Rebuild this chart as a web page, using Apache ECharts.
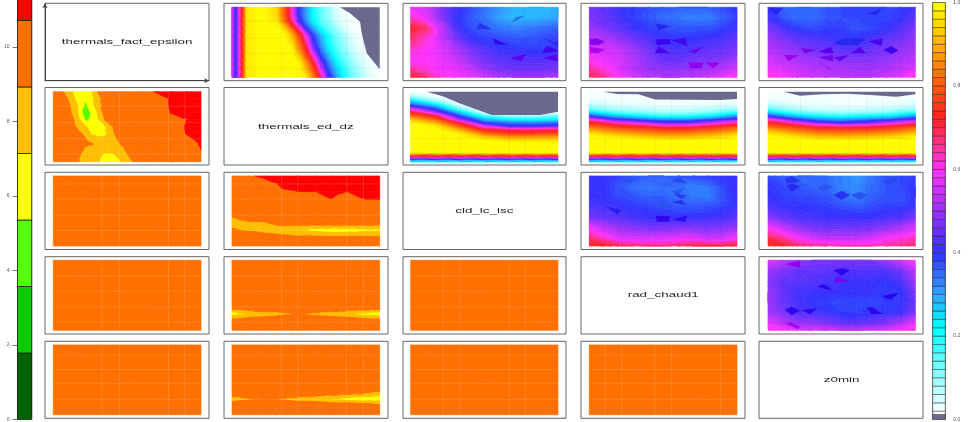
<!DOCTYPE html>
<html>
<head>
<meta charset="utf-8">
<style>html,body{margin:0;padding:0;background:#fff}#c{width:969px;height:422px}#c canvas{filter:blur(.6px)}</style>
<script src="https://cdn.jsdelivr.net/npm/echarts@6/dist/echarts.min.js"></script>
</head>
<body>
<div id="c"></div>
<script>
// ---------- DATA ----------
const variableNames = ['thermals_fact_epsilon','thermals_ed_dz','cld_lc_lsc','rad_chaud1','z0min'];
const leftTickValues = [0,2,4,6,8,10];
const rightTickValues = [0,0.2,0.4,0.6,0.8,1];
const leftLevels = [0,1.786,3.571,5.357,7.143,8.929,10.714,12.5];
const rightLevels = [0,0.012,0.02,0.04,0.06,0.08,0.1,0.12,0.14,0.16,0.18,0.2,0.22,0.24,0.26,0.28,0.3,0.32,0.34,0.36,0.38,0.4,0.42,0.44,0.46,0.48,0.5,0.52,0.54,0.56,0.58,0.6,0.62,0.64,0.66,0.68,0.7,0.72,0.74,0.76,0.78,0.8,0.82,0.84,0.86,0.88,0.9,0.92,0.94,0.96,0.98,1];

const flatCols = [0,1];
const flatRows = [1,0];
const flatVals = [[9.8,9.8],[9.8,9.8]];

const cols12 = [0,.025,.05,.075,.1,.2,.3,.35,.4,.45,.5,.55,.6,.65,.7,.75,.8,.85,.9,.95,1];
const rows12 = [1,.9,.8,.7,.6,.5,.4,.3,.2,.1,0];
const vals12 = [
[.55,.38,.6,.76,.97,1,.95,.81,.64,.4,.3,.21,.14,.1,.05,.021,.021,.021,.021,.021,.021],
[.55,.38,.6,.76,.97,1,.95,.81,.64,.4,.3,.21,.14,.1,.05,.03,.021,.021,.021,.021,.021],
[.55,.38,.6,.76,.97,1,.97,.84,.68,.44,.32,.22,.15,.11,.06,.035,.025,.021,.021,.021,.021],
[.55,.38,.6,.76,.97,1,1,.95,.81,.64,.4,.3,.21,.14,.1,.05,.03,.021,.021,.021,.021],
[.55,.38,.6,.76,.97,1,1,1,.92,.78,.59,.38,.28,.2,.13,.09,.05,.025,.021,.021,.021],
[.55,.38,.6,.76,.97,1,1,1,.96,.83,.66,.42,.31,.21,.145,.1,.055,.03,.021,.021,.021],
[.55,.38,.6,.76,.97,1,1,1,1,.87,.72,.49,.34,.24,.17,.115,.07,.04,.021,.021,.021],
[.55,.38,.6,.76,.97,1,1,1,1,.94,.79,.62,.39,.29,.2,.135,.095,.05,.03,.021,.021],
[.55,.38,.6,.76,.97,1,1,1,1,1,.87,.72,.49,.34,.24,.17,.115,.07,.04,.021,.021],
[.55,.38,.6,.76,.97,1,1,1,1,1,.92,.78,.59,.38,.28,.2,.13,.09,.05,.03,.021],
[.55,.38,.6,.76,.97,1,1,1,1,1,.97,.84,.68,.44,.32,.22,.15,.11,.06,.035,.021]];

const colsFine = [0,.1,.2,.3,.4,.5,.6,.7,.8,.9,1];
const rowsFine = [1,.85,.7,.55,.4,.25,.1,0];
const vals13 = [
[.58,.56,.48,.42,.38,.35,.32,.29,.28,.28,.3],
[.63,.58,.49,.41,.37,.34,.3,.28,.28,.29,.3],
[.72,.68,.55,.43,.38,.36,.34,.33,.34,.35,.36],
[.68,.62,.55,.47,.41,.39,.38,.37,.37,.38,.39],
[.62,.6,.57,.52,.47,.43,.41,.4,.39,.39,.4],
[.6,.6,.58,.55,.5,.46,.44,.43,.43,.43,.44],
[.66,.62,.59,.58,.55,.5,.47,.46,.46,.46,.47],
[.73,.68,.62,.6,.58,.55,.52,.5,.5,.5,.52]];
const vals14 = [
[.46,.44,.41,.39,.38,.37,.36,.36,.36,.38,.4],
[.47,.45,.42,.39,.37,.35,.34,.33,.33,.36,.39],
[.5,.47,.44,.41,.39,.38,.37,.37,.37,.39,.41],
[.53,.52,.49,.46,.43,.41,.4,.4,.41,.42,.44],
[.57,.56,.54,.5,.46,.43,.42,.43,.44,.45,.47],
[.6,.58,.56,.52,.48,.45,.45,.46,.47,.48,.5],
[.66,.62,.57,.53,.5,.49,.49,.5,.51,.53,.56],
[.7,.66,.6,.56,.53,.52,.52,.53,.55,.58,.62]];
const vals15 = [
[.4,.36,.35,.35,.37,.38,.38,.38,.38,.39,.41],
[.42,.37,.35,.35,.37,.38,.38,.38,.38,.4,.44],
[.47,.42,.39,.38,.39,.39,.37,.38,.4,.43,.47],
[.5,.47,.44,.43,.42,.4,.4,.42,.44,.46,.49],
[.53,.5,.48,.46,.45,.44,.44,.45,.47,.49,.51],
[.55,.53,.51,.5,.49,.48,.48,.48,.49,.51,.53],
[.59,.57,.55,.53,.52,.52,.51,.51,.52,.54,.57],
[.63,.6,.57,.55,.54,.53,.53,.53,.55,.57,.63]];
const vals34 = [
[.41,.41,.39,.37,.36,.36,.37,.38,.39,.4,.41],
[.41,.4,.37,.35,.34,.35,.35,.33,.34,.38,.41],
[.41,.4,.38,.37,.36,.36,.34,.34,.33,.37,.41],
[.43,.42,.41,.4,.39,.38,.37,.37,.38,.39,.41],
[.47,.45,.44,.42,.41,.41,.41,.41,.41,.42,.44],
[.59,.54,.5,.48,.47,.47,.48,.48,.47,.48,.5],
[.68,.63,.57,.56,.56,.57,.58,.58,.55,.56,.6],
[.73,.72,.7,.68,.67,.67,.68,.7,.7,.7,.72]];
const vals35 = [
[.38,.36,.35,.35,.35,.33,.31,.34,.37,.38,.39],
[.4,.38,.37,.36,.35,.33,.32,.35,.37,.38,.4],
[.41,.39,.38,.38,.37,.34,.33,.36,.37,.37,.4],
[.43,.41,.4,.4,.39,.38,.37,.38,.39,.39,.41],
[.49,.45,.43,.42,.41,.41,.41,.41,.42,.43,.47],
[.6,.55,.5,.47,.46,.46,.46,.47,.49,.52,.57],
[.7,.66,.6,.56,.54,.54,.54,.56,.6,.62,.64],
[.74,.72,.68,.66,.65,.64,.64,.64,.65,.66,.68]];
const vals45 = [
[.57,.53,.49,.47,.47,.47,.47,.47,.5,.55,.6],
[.5,.47,.45,.45,.44,.43,.43,.43,.43,.46,.53],
[.48,.45,.44,.43,.42,.41,.41,.41,.4,.42,.5],
[.5,.45,.42,.41,.41,.41,.41,.4,.39,.4,.47],
[.5,.45,.42,.4,.39,.38,.38,.38,.39,.4,.45],
[.51,.47,.43,.42,.41,.39,.39,.4,.4,.41,.47],
[.58,.53,.5,.49,.47,.45,.44,.45,.47,.52,.58],
[.62,.6,.58,.56,.55,.54,.54,.55,.57,.6,.63]];

const colsBand = [0,.17,.33,.5,.67,.83,1];
const rowsBand = [1,.95,.9,.85,.8,.75,.7,.65,.6,.55,.5,.45,.4,.35,.3,.25,.14,.11,.09,.07,.05,.03,.015,0];
const vals23 = [
[.03,.021,.021,.021,.021,.021,.021],
[.06,.021,.021,.021,.021,.021,.021],
[.15,.05,.021,.021,.021,.021,.021],
[.28,.12,.021,.021,.021,.021,.021],
[.38,.26,.04,.021,.021,.021,.021],
[.58,.37,.12,.021,.021,.021,.021],
[.72,.5,.26,.03,.021,.021,.021],
[.82,.71,.37,.15,.08,.08,.12],
[.92,.8,.5,.28,.21,.2,.23],
[.99,.9,.71,.38,.33,.32,.34],
[1,.98,.8,.58,.42,.42,.44],
[1,1,.9,.72,.68,.68,.69],
[1,1,.98,.82,.76,.76,.77],
[1,1,1,.92,.86,.86,.87],
[1,1,1,.99,.96,.96,.96],
[1,1,1,1,1,1,1],
[1,1,1,1,1,1,1],
[.95,.95,.95,.95,.95,.95,.95],
[.78,.78,.78,.78,.78,.78,.78],
[.7,.7,.7,.7,.7,.7,.7],
[.55,.55,.55,.55,.55,.55,.55],
[.4,.4,.4,.4,.4,.4,.4],
[.3,.3,.3,.3,.3,.3,.3],
[.2,.2,.2,.2,.2,.2,.2]];
const vals24 = [
[.025,.021,.021,.021,.021,.021,.021],
[.025,.025,.021,.021,.021,.021,.021],
[.03,.025,.025,.021,.021,.021,.021],
[.05,.03,.03,.025,.025,.025,.025],
[.08,.05,.04,.03,.03,.04,.05],
[.13,.08,.07,.055,.055,.07,.09],
[.25,.15,.12,.09,.09,.12,.17],
[.37,.27,.22,.17,.17,.22,.3],
[.6,.4,.35,.3,.3,.35,.43],
[.74,.63,.55,.45,.45,.55,.66],
[.81,.75,.72,.66,.66,.72,.77],
[.89,.83,.8,.77,.77,.8,.85],
[.96,.9,.87,.84,.84,.87,.92],
[1,.97,.94,.91,.91,.94,.99],
[1,1,1,.99,.99,1,1],
[1,1,1,1,1,1,1],
[1,1,1,1,1,1,1],
[.95,.95,.95,.95,.95,.95,.95],
[.78,.78,.78,.78,.78,.78,.78],
[.7,.7,.7,.7,.7,.7,.7],
[.55,.55,.55,.55,.55,.55,.55],
[.4,.4,.4,.4,.4,.4,.4],
[.3,.3,.3,.3,.3,.3,.3],
[.2,.2,.2,.2,.2,.2,.2]];
const vals25 = [
[.021,.021,.021,.021,.021,.021,.021],
[.025,.021,.021,.021,.021,.021,.021],
[.03,.025,.025,.025,.025,.022,.025],
[.05,.03,.03,.025,.03,.03,.035],
[.08,.05,.035,.03,.03,.04,.05],
[.14,.08,.055,.05,.055,.07,.09],
[.26,.15,.11,.09,.1,.12,.17],
[.38,.27,.2,.17,.2,.22,.3],
[.6,.4,.32,.3,.32,.35,.43],
[.74,.63,.47,.4,.45,.55,.66],
[.81,.75,.68,.66,.68,.72,.77],
[.89,.83,.78,.77,.78,.8,.85],
[.96,.9,.85,.84,.85,.87,.92],
[1,.97,.92,.91,.92,.94,.99],
[1,1,.99,.99,.99,1,1],
[1,1,1,1,1,1,1],
[1,1,1,1,1,1,1],
[.95,.95,.95,.95,.95,.95,.95],
[.78,.78,.78,.78,.78,.78,.78],
[.7,.7,.7,.7,.7,.7,.7],
[.55,.55,.55,.55,.55,.55,.55],
[.4,.4,.4,.4,.4,.4,.4],
[.3,.3,.3,.3,.3,.3,.3],
[.2,.2,.2,.2,.2,.2,.2]];

const cols21 = [0,.05,.1,.15,.18,.22,.26,.3,.35,.4,.45,.5,.6,.7,.8,.9,1];
const rows21 = [1,.9,.8,.7,.6,.5,.4,.3,.25,.2,.1,0];
const vals21 = [
[9.8,9.3,8.2,6.5,5.9,5.7,7.0,8.9,9.5,9.8,9.8,9.8,9.8,10.9,11,11,11],
[9.8,9.6,8.9,7.0,6.0,5.7,6.5,8.5,9.5,9.8,9.8,9.8,9.8,10,10.9,11,11],
[9.8,9.8,9.4,7.9,6.5,5.0,6.4,8.3,9.5,9.8,9.8,9.8,9.8,10,10.9,11,11],
[9.8,9.8,9.6,8.0,6.4,3.7,5.8,7.3,9.8,9.8,9.8,9.8,9.8,10,10.8,11,11],
[9.8,9.8,9.7,8.7,7.2,5.0,6.0,6.8,9.1,9.8,9.8,9.8,9.8,9.9,10.1,10.7,11],
[9.8,9.8,9.8,9.0,8.2,7.3,6.4,6.2,6.9,8.9,9.8,9.8,9.8,9.9,10.1,10.8,11],
[9.8,9.8,9.8,9.7,9.2,8.6,7.0,6.6,6.9,8.7,9.5,9.8,9.8,9.9,10,10.75,11],
[9.8,9.8,9.8,9.8,9.7,9.1,8.3,8.0,7.8,8.1,9.2,9.8,9.8,9.8,9.9,10.4,10.9],
[9.8,9.8,9.8,9.8,9.8,9.7,9.2,8.4,7.9,8.0,8.9,9.6,9.8,9.8,9.9,10.3,10.8],
[9.8,9.8,9.8,9.8,9.5,8.8,8.0,7.8,7.6,7.8,8.4,9.4,9.8,9.8,9.8,10.2,10.75],
[9.8,9.8,9.8,9.8,9.0,8.3,7.9,7.5,7.0,7.0,7.6,8.9,9.8,9.8,9.8,10.1,10.6],
[9.8,9.8,9.8,9.2,8.8,8.0,7.6,7.3,6.5,6.3,6.9,8.4,9.8,9.8,9.8,9.9,10.3]];

const cols32 = [0,.05,.11,.22,.3,.34,.44,.57,.67,.78,.89,1];
const rows32 = [1,.89,.78,.67,.55,.43,.38,.33,.28,.25,.225,.2,.17,.13,0];
const vals32 = [
[9.8,10,10.5,11,11,11,11,11,11,11,11,11],
[9.8,9.8,9.9,10.2,10.7,10.9,11,11,11,11,11,11],
[9.8,9.8,9.8,9.9,10.2,10.6,10.72,10.72,11,10.72,11,11],
[9.8,9.8,9.8,9.8,9.9,10,10.2,10.3,10.72,10.3,10.72,10.72],
[9.8,9.8,9.8,9.8,9.8,9.8,9.8,9.8,9.8,9.8,9.8,9.8],
[9.2,9.7,9.8,9.8,9.8,9.8,9.8,9.8,9.8,9.8,9.8,9.8],
[8.5,9.0,9.4,9.7,9.8,9.8,9.8,9.8,9.8,9.8,9.8,9.8],
[8.0,8.5,8.7,8.8,9.4,9.6,9.5,9.5,9.5,9.5,9.5,9.5],
[7.9,8.0,8.1,8.2,8.7,8.9,8.8,8.7,8.7,8.7,8.7,8.7],
[9.1,8.2,8.0,8.0,8.2,8.3,8.0,7.5,7.2,7.3,7.5,7.6],
[9.5,8.9,8.5,8.2,8.3,8.3,7.4,6.5,5.4,6,6.5,6.9],
[9.8,9.4,9.2,8.7,8.5,8.4,7.7,7.3,6.9,7,7.2,7.4],
[9.8,9.8,9.7,9.2,8.9,8.8,8.3,8.1,8.0,8.0,8.1,8.5],
[9.8,9.8,9.8,9.8,9.8,9.8,9.2,9.3,9.2,9.2,9.2,9.1],
[9.8,9.8,9.8,9.8,9.8,9.8,9.8,9.8,9.8,9.8,9.8,9.8]];

const cols42 = [0,.1,.2,.3,.41,.44,.47,.6,.7,.8,.9,1];
const rows42 = [1,.3,.27,.25,.228,.205,.185,.155,.1,0];
const vals42 = [
[9.8,9.8,9.8,9.8,9.8,9.8,9.8,9.8,9.8,9.8,9.8,9.8],
[9.0,9.5,9.8,9.8,9.8,9.8,9.8,9.8,9.8,9.5,9.3,9.0],
[8.2,8.7,9.2,9.6,9.8,9.8,9.8,9.5,9.2,8.8,8.4,8.2],
[7.1,8.0,8.4,8.9,9.7,9.8,9.7,8.9,8.4,8.0,7.3,7.0],
[6.6,7.2,7.8,8.2,8.9,9.3,8.9,8.0,7.9,7.3,6.6,6.3],
[7.2,8.0,8.4,8.9,9.7,9.8,9.7,8.9,8.5,8.1,7.4,7.1],
[8.3,8.8,9.2,9.6,9.8,9.8,9.8,9.6,9.3,8.9,8.5,8.3],
[9.0,9.4,9.8,9.8,9.8,9.8,9.8,9.8,9.8,9.6,9.3,9.0],
[9.8,9.8,9.8,9.8,9.8,9.8,9.8,9.8,9.8,9.8,9.8,9.8],
[9.8,9.8,9.8,9.8,9.8,9.8,9.8,9.8,9.8,9.8,9.8,9.8]];

const cols52 = [0,.1,.2,.3,.33,.45,.55,.69,.8,.9,1];
const rows52 = [1,.36,.34,.3,.26,.245,.22,.2,.185,.16,.14,.1,0];
const vals52 = [
[9.8,9.8,9.8,9.8,9.8,9.8,9.8,9.8,9.8,9.8,9.8],
[9.8,9.8,9.8,9.8,9.8,9.8,9.8,9.8,9.8,9.8,9.2],
[9.8,9.8,9.8,9.8,9.8,9.8,9.8,9.8,9.8,9.6,8.95],
[9.8,9.8,9.8,9.8,9.8,9.8,9.8,9.6,9.2,8.9,8.2],
[9.8,9.8,9.8,9.8,9.8,9.4,9.1,8.4,7.9,7.6,7.0],
[8.6,9.2,9.6,9.7,9.4,8.9,8.7,7.8,7.2,7,6.7],
[8.0,8.6,9.0,9.0,8.8,8.0,7.9,7.1,6.5,6.1,5.8],
[8.7,9.1,9.6,9.6,9.3,8.7,8.6,7.8,7.2,7,6.9],
[8.9,9.4,9.8,9.8,9.6,9.2,9.1,8.5,8.3,8.1,7.9],
[9.8,9.8,9.8,9.8,9.8,9.8,9.8,9.5,9.3,9.0,8.6],
[9.8,9.8,9.8,9.8,9.8,9.8,9.8,9.8,9.7,9.4,8.93],
[9.8,9.8,9.8,9.8,9.8,9.8,9.8,9.8,9.8,9.8,9.8],
[9.8,9.8,9.8,9.8,9.8,9.8,9.8,9.8,9.8,9.8,9.8]];

// small closed contour islands: [level, [x,y], [x,y], ...]
const islands12 = [[0,[.731,1],[.799,.914],[.867,.795],[.878,.629],[.912,.343],[1,.114],[1,1]]];
const islands23 = [[0,[.109,1],[.222,.93],[.335,.833],[.55,.667],[.878,.667],[1,.714],[1,1]]];
const islands24 = [[0,[.095,1],[.185,.967],[.332,.962],[.445,.89],[.885,.881],[1,.895],[1,1]]];
const islands25 = [[0,[.104,1],[.217,.943],[.364,.962],[.534,.971],[.692,.952],[.873,.929],[1,.962],[1,1]]];
const islands13 = [
[.36,[.466,.781],[.55,.686],[.443,.686]],
[.32,[.681,.781],[.776,.881],[.719,.857]],
[.42,[.557,.557],[.663,.462],[.572,.476]],
[.37,[.896,.557],[1,.486],[1,.448]],
[.43,[.889,.343],[.923,.448],[.995,.39],[.991,.367]],
[.46,[.674,.271],[.783,.333],[.753,.233]],
[.46,[.9,.271],[.991,.333],[1,.224]]];
const islands14 = [
[.37,[.446,.771],[.552,.733],[.468,.667]],
[.52,[.005,.543],[.05,.557],[.106,.51],[.061,.457],[.005,.462]],
[.57,[.005,.438],[.106,.4],[.061,.343],[.005,.352]],
[.42,[.451,.543],[.546,.543],[.552,.476],[.456,.462]],
[.43,[.558,.524],[.648,.557],[.666,.448]],
[.44,[.445,.343],[.467,.448],[.551,.343]],
[.48,[.67,.367],[.777,.448],[.722,.343]],
[.53,[.67,.21],[.772,.21],[.761,.129],[.682,.129]],
[.54,[.783,.21],[.88,.21],[.84,.129]]];
const islands15 = [
[.37,[.002,.986],[.104,.986],[.054,.89]],
[.37,[.67,.905],[.778,.986],[.738,.89]],
[.37,[.455,.51],[.545,.557],[.552,.462],[.471,.457]],
[.37,[.561,.557],[.658,.548],[.613,.457],[.557,.462]],
[.44,[.681,.51],[.776,.557],[.771,.448]],
[.43,[.783,.39],[.839,.448],[.885,.381],[.839,.333]],
[.46,[.561,.343],[.624,.438],[.665,.343]],
[.46,[.342,.367],[.432,.438],[.443,.343],[.387,.343]],
[.5,[.222,.414],[.33,.39],[.251,.343]],
[.54,[.109,.319],[.213,.319],[.138,.233]],
[.49,[.342,.286],[.439,.319],[.443,.224]],
[.47,[.443,.286],[.552,.319],[.484,.224]],
[.56,[.335,.224],[.432,.119],[.421,.114]]];
const islands34 = [
[.33,[.219,.943],[.28,.99],[.332,.943],[.264,.895]],
[.34,[.558,.919],[.609,.981],[.664,.895]],
[.33,[.558,.776],[.648,.838],[.603,.729]],
[.35,[.569,.743],[.664,.729],[.625,.667]],
[.33,[.445,.562],[.501,.667],[.558,.562]],
[.36,[.558,.633],[.625,.657],[.664,.586],[.58,.61]],
[.38,[.113,.562],[.219,.514],[.19,.452]],
[.41,[.451,.429],[.546,.429],[.542,.348],[.456,.348]],
[.39,[.558,.381],[.664,.438],[.648,.338]]];
const islands35 = [
[.36,[.115,.967],[.161,1],[.217,.933],[.172,.895],[.122,.905]],
[.37,[.122,.871],[.172,.886],[.217,.848],[.161,.776]],
[.33,[.335,.848],[.394,.886],[.439,.838],[.376,.776]],
[.36,[.443,.729],[.5,.79],[.557,.729],[.5,.657]],
[.33,[.561,.729],[.624,.776],[.67,.729],[.624,.657]],
[.34,[.783,.919],[.862,.99],[.885,.933],[.817,.886]]];
const islands45 = [
[.53,[.115,.943],[.217,.995],[.217,.895]],
[.41,[.443,.862],[.5,.886],[.557,.862],[.5,.781]],
[.5,[.443,.671],[.466,.767],[.552,.705]],
[.41,[.335,.624],[.376,.662],[.439,.576],[.387,.586]],
[.4,[.783,.49],[.828,.519],[.885,.529],[.839,.443],[.794,.457]],
[.41,[.115,.29],[.161,.338],[.217,.281],[.161,.219]],
[.41,[.229,.29],[.33,.314],[.285,.229]],
[.41,[.67,.314],[.704,.338],[.776,.233],[.704,.229]],
[.55,[.115,.1],[.161,.11],[.217,.052],[.206,.014]]];

// faint lattice lines seen in each panel
const latticeByColumn = [[.33,.447,.78,.89],[.336,.445,.776,.889],[.222,.333,.668,.778],[.106,.22,.445,.558,.889],[.22,.55,.67,.78,.9]];
const latticeByRow = [[.13,.34,.56,.8],[.11,.33,.56,.79],[.22,.44,.67,.886],[.114,.333,.557,.776],[.22,.45,.65,.856]];

// ---------- LAYOUT & STYLE ----------
const boxL=[45,224,403,581,759], boxR=[209,388,566,745,923];
const boxT=[3.3,87.5,172.3,256.7,341.3], boxB=[80.7,165,249.5,334,418.3];
const imgL=[53.3,232,410.7,589.3,768], imgR=[201,379.7,558,737,915.3];
const imgT=[7.3,91.7,176,260.3,345], imgB=[77.3,161.7,246,330.3,414.7];
const leftColors=['#006400','#00cc00','#55ff00','#ffff00','#ffbf00','#ff7000','#ff0000'];
const paletteStops=[[.02,[250,255,255]],[.22,[0,255,255]],[.3,[48,165,255]],[.4,[50,50,255]],[.5,[155,50,250]],[.6,[255,50,255]],[.66,[255,50,140]],[.72,[255,35,35]],[.8,[255,90,20]],[.9,[255,178,0]],[1,[255,255,0]]];
function paletteRGB(m){
  for(let k=0;k<paletteStops.length-1;k++){
    const a=paletteStops[k],b=paletteStops[k+1];
    if(m<=b[0]){const t=Math.max(0,(m-a[0])/(b[0]-a[0]));
      return a[1].map((c,j)=>Math.round(c+(b[1][j]-c)*t));}
  }
  return [255,255,0];
}
const css=c=>'rgb('+c.join(',')+')';
const rightColors=rightLevels.slice(0,-1).map((l,i)=>i===0?'#6b6a8e':i===1?'#ffffff':css(paletteRGB((l+rightLevels[i+1])/2)));
// panels use half-steps of the legend's scale: the reference's resampling melts neighbouring bands together
const panelLevels=[];
rightLevels.forEach((l,i)=>{panelLevels.push(l);if(i>=2&&i<rightLevels.length-1)panelLevels.push((l+rightLevels[i+1])/2);});
const panelColors=panelLevels.slice(0,-1).map((l,i)=>i===0?'#6b6a8e':i===1?'#ffffff':css(paletteRGB((l+panelLevels[i+1])/2)));
function islandFill(level){
  if(level<0.012) return '#6b6a8e';
  const c=paletteRGB(level);
  return css([Math.round(c[0]*.78),Math.max(0,c[1]-45),Math.round(c[2]*.94)]);
}

function clip(poly,lvl,above){
  const out=[];const n=poly.length;
  for(let i=0;i<n;i++){
    const a=poly[i],b=poly[(i+1)%n];
    const ai=above?a[2]>=lvl:a[2]<=lvl, bi=above?b[2]>=lvl:b[2]<=lvl;
    if(ai)out.push(a);
    if(ai!==bi){const t=(lvl-a[2])/(b[2]-a[2]);out.push([a[0]+(b[0]-a[0])*t,a[1]+(b[1]-a[1])*t,lvl]);}
  }
  return out;
}
function contourItem(levels,colors){
  return function(params,api){
    const x0=api.value(0),u0=api.value(1),x1=api.value(2),u1=api.value(3);
    const p00=[x0,u0,api.value(4)],p10=[x1,u0,api.value(5)],p01=[x0,u1,api.value(6)],p11=[x1,u1,api.value(7)];
    const children=[];
    [[p00,p10,p11],[p00,p11,p01]].forEach(tri=>{
      const vs=tri.map(p=>p[2]);const mn=Math.min(...vs),mx=Math.max(...vs);
      for(let b=0;b<levels.length-1;b++){
        const lo=levels[b],hi=levels[b+1];
        if(hi<mn||lo>mx)continue;
        let poly=clip(tri,lo,true);if(poly.length<3)continue;
        poly=clip(poly,hi,false);if(poly.length<3)continue;
        children.push({type:'polygon',silent:true,shape:{points:poly.map(p=>api.coord([p[0],p[1]]))},
          style:{fill:colors[b],stroke:colors[b],lineWidth:.7}});
      }
    });
    return {type:'group',children};
  };
}
function cellsOf(cols,rows,vals){
  const out=[];
  for(let r=0;r<rows.length-1;r++)for(let c=0;c<cols.length-1;c++)
    out.push([cols[c],rows[r],cols[c+1],rows[r+1],vals[r][c],vals[r][c+1],vals[r+1][c],vals[r+1][c+1]]);
  return out;
}
const panelTable=[
 [0,1,cols12,rows12,vals12,islands12,'A'],[0,2,colsFine,rowsFine,vals13,islands13,'A'],[0,3,colsFine,rowsFine,vals14,islands14,'A'],[0,4,colsFine,rowsFine,vals15,islands15,'A'],
 [1,0,cols21,rows21,vals21,null,'B'],[1,2,colsBand,rowsBand,vals23,islands23,'A'],[1,3,colsBand,rowsBand,vals24,islands24,'A'],[1,4,colsBand,rowsBand,vals25,islands25,'A'],
 [2,0,flatCols,flatRows,flatVals,null,'B'],[2,1,cols32,rows32,vals32,null,'B'],[2,3,colsFine,rowsFine,vals34,islands34,'A'],[2,4,colsFine,rowsFine,vals35,islands35,'A'],
 [3,0,flatCols,flatRows,flatVals,null,'B'],[3,1,cols42,rows42,vals42,null,'B'],[3,2,flatCols,flatRows,flatVals,null,'B'],[3,4,colsFine,rowsFine,vals45,islands45,'A'],
 [4,0,flatCols,flatRows,flatVals,null,'B'],[4,1,cols52,rows52,vals52,null,'B'],[4,2,flatCols,flatRows,flatVals,null,'B'],[4,3,flatCols,flatRows,flatVals,null,'B']
];

const grids=[],xAxes=[],yAxes=[],series=[];
for(let r=0;r<5;r++)for(let c=0;c<5;c++){
  const idx=grids.length;
  grids.push({show:true,left:boxL[c],top:boxT[r],width:boxR[c]-boxL[c],height:boxB[r]-boxT[r],backgroundColor:'#fff',borderColor:'#666',borderWidth:1});
  const w=imgR[c]-imgL[c],h=imgB[r]-imgT[r];
  const arrow=idx===0;
  const axisBase={type:'value',splitLine:{show:false},axisTick:{show:false},axisLabel:{show:false},
    axisLine:{show:arrow,onZero:false,lineStyle:{color:'#444',width:1},symbol:['none','arrow'],symbolSize:[4,5]}};
  xAxes.push(Object.assign({gridIndex:idx,min:(boxL[c]-imgL[c])/w,max:1+(boxR[c]-imgR[c])/w},axisBase));
  yAxes.push(Object.assign({gridIndex:idx,min:-(boxB[r]-imgB[r])/h,max:1+(imgT[r]-boxT[r])/h},axisBase));
  if(r===c){
    series.push({type:'custom',xAxisIndex:idx,yAxisIndex:idx,silent:true,animation:false,data:[[0.5,0.5,r]],
      encode:{x:0,y:1},renderItem:(p,api)=>{const pt=api.coord([.5,.5]);return {type:'text',x:pt[0],y:pt[1],scaleX:1.68,scaleY:.95,
        style:{text:variableNames[r],fontFamily:'Liberation Sans',fontSize:8,fill:'#222',align:'center',verticalAlign:'middle'}};}});
    continue;
  }
  const row=panelTable.find(t=>t[0]===r&&t[1]===c);
  const scaleA=row[6]==='A';
  series.push({type:'custom',xAxisIndex:idx,yAxisIndex:idx,silent:true,animation:false,progressive:0,clip:true,
    data:cellsOf(row[2],row[3],row[4]),encode:{x:[0,2],y:[1,3]},
    renderItem:contourItem(scaleA?panelLevels:leftLevels,scaleA?panelColors:leftColors)});
  if(row[5]){
    const isl=row[5];
    series.push({type:'custom',xAxisIndex:idx,yAxisIndex:idx,silent:true,animation:false,progressive:0,clip:true,
      data:isl.map(a=>[a[1][0],a[1][1],a[0]]),encode:{x:0,y:1},
      renderItem:(p,api)=>{const a=isl[p.dataIndex];
        return {type:'polygon',shape:{points:a.slice(1).map(q=>api.coord(q))},style:{fill:islandFill(a[0])}};}});
  }
  const stroke=scaleA?'rgba(50,50,120,0.06)':'rgba(255,255,255,0.13)';
  const lines=latticeByColumn[c].map(v=>[v,0,v,1]).concat(latticeByRow[r].map(v=>[0,v,1,v]));
  series.push({type:'custom',xAxisIndex:idx,yAxisIndex:idx,silent:true,animation:false,progressive:0,clip:true,
    data:lines,encode:{x:[0,2],y:[1,3]},
    renderItem:(p,api)=>{const a=api.coord([api.value(0),api.value(1)]),b=api.coord([api.value(2),api.value(3)]);
      return {type:'line',shape:{x1:a[0],y1:a[1],x2:b[0],y2:b[1]},style:{stroke,lineWidth:1}};}});
}
function colorBar(levels,colors,left,width,top,bottom,maxV,ticks,pos,lineCol,fmt){
  const idx=grids.length;
  grids.push({show:true,left,width,top,height:bottom-top,borderColor:'#666',borderWidth:1,backgroundColor:'#fff'});
  xAxes.push({gridIndex:idx,type:'value',min:0,max:1,show:false});
  yAxes.push({gridIndex:idx,type:'value',min:0,max:maxV,position:pos,splitLine:{show:false},
    axisLine:{show:false},axisTick:{show:true,length:5,customValues:ticks,lineStyle:{color:'#777',width:1}},
    axisLabel:{show:true,customValues:ticks,fontSize:5,margin:8,color:'#555',fontFamily:'Liberation Sans',formatter:fmt}});
  series.push({type:'custom',xAxisIndex:idx,yAxisIndex:idx,silent:true,animation:false,progressive:0,clip:true,
    data:levels.slice(0,-1).map((l,i)=>[0,l,1,levels[i+1]]),encode:{x:[0,2],y:[1,3]},
    renderItem:(p,api)=>{const a=api.coord([0,api.value(1)]),b=api.coord([1,api.value(3)]);
      return {type:'rect',shape:{x:a[0],y:b[1],width:b[0]-a[0],height:a[1]-b[1]},style:{fill:colors[p.dataIndex],stroke:lineCol,lineWidth:1}};}});
}
colorBar(leftLevels,leftColors,17.5,14.2,0,420.7,11.264,leftTickValues,'left','rgba(20,30,0,0.75)',v=>String(v));
colorBar(rightLevels,rightColors,932.7,12.6,0.7,420.7,1,rightTickValues,'right','rgba(40,30,30,0.45)',v=>v.toFixed(1));

const chart=echarts.init(document.getElementById('c'),null,{renderer:'canvas',width:969,height:422});
chart.setOption({animation:false,backgroundColor:'#fff',tooltip:{show:false},grid:grids,xAxis:xAxes,yAxis:yAxes,series});
</script>
</body>
</html>
